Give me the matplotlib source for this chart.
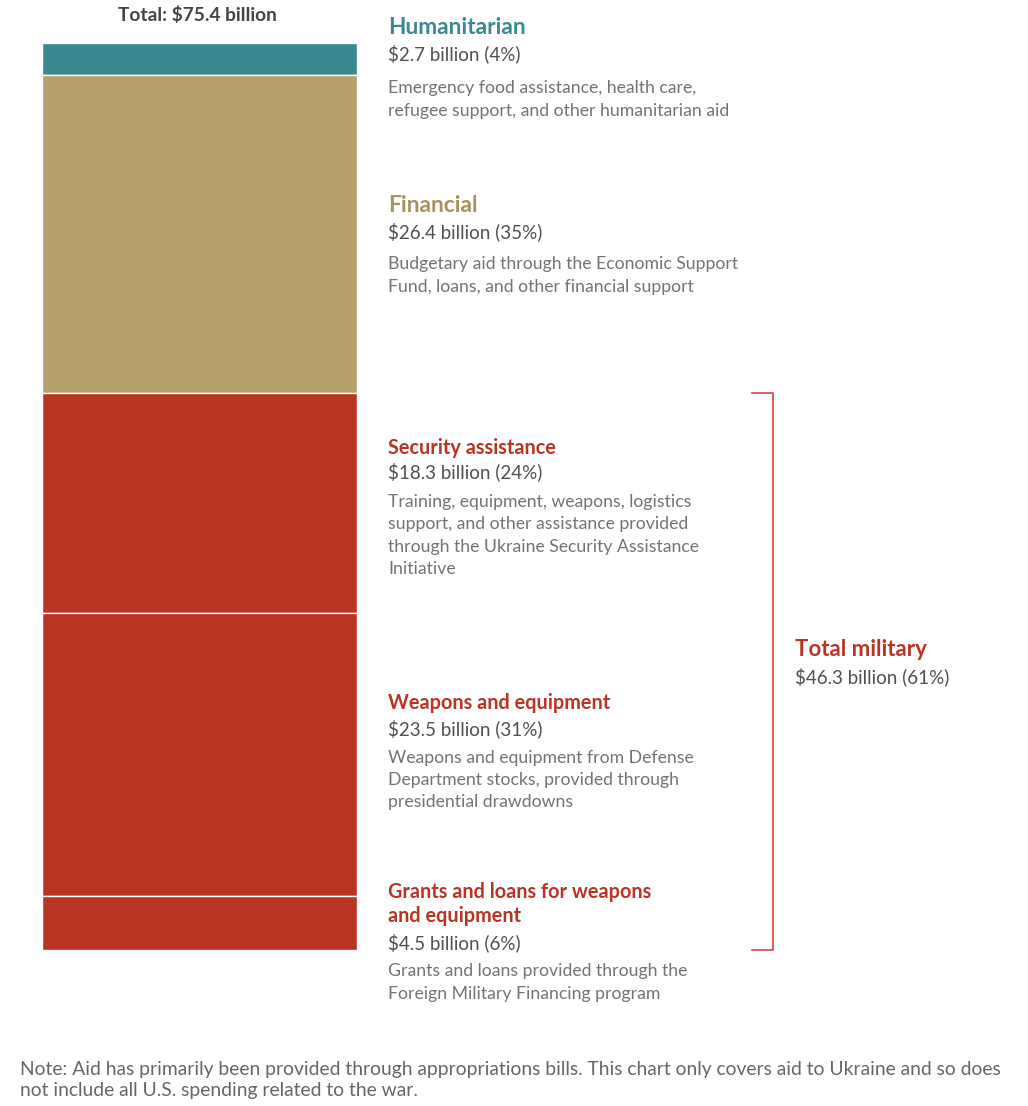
import matplotlib.pyplot as plt
import numpy as np

W, H = 1028, 1106

# category data (billions of dollars)
categories = ["Humanitarian", "Financial", "Security assistance",
              "Weapons and equipment", "Grants and loans for weapons\nand equipment"]
values = [2.7, 26.4, 18.3, 23.5, 4.5]
shares = [4, 35, 24, 31, 6]
colors = ["#3a8890", "#b5a06c", "#b93423", "#b93423", "#b93423"]
descriptions = [
    "Emergency food assistance, health care,\nrefugee support, and other humanitarian aid",
    "Budgetary aid through the Economic Support\nFund, loans, and other financial support",
    "Training, equipment, weapons, logistics\nsupport, and other assistance provided\n"
    "through the Ukraine Security Assistance\nInitiative",
    "Weapons and equipment from Defense\nDepartment stocks, provided through\n"
    "presidential drawdowns",
    "Grants and loans provided through the\nForeign Military Financing program",
]
total = 75.4
military_total = 46.3
military_share = 61

FONT = "Lato"
DARK = "#444444"
MID = "#505050"
LIGHT = "#737373"
RED = "#b93423"

fig = plt.figure(figsize=(W / 100, H / 100), dpi=100)

# bar axes spans the full width in pixel units, y in billions
ax = fig.add_axes([0, (H - 950) / H, 1, 907 / H])
ax.set_xlim(0, W)
ax.set_ylim(total, 0)
ax.axis("off")

bottoms = np.concatenate([[0], np.cumsum(values)[:-1]])
ax.bar(42, values, bottom=bottoms, width=315, align="edge",
       color=colors, edgecolor="white", linewidth=1.0)

# bracket for the military total
mil_top = bottoms[2]
mil_bot = bottoms[-1] + values[-1]
ax.plot([752, 773, 773, 752], [mil_top, mil_top, mil_bot, mil_bot],
        color="#d8473e", lw=1.2, clip_on=False)


def txt(x, y, s, **kw):
    kw.setdefault("family", FONT)
    fig.text(x / W, 1 - y / H, s, va="center", ha=kw.pop("ha", "left"), **kw)


txt(197, 15, f"Total: ${total} billion", ha="center", fontsize=13.8,
    fontweight="bold", color=DARK)

# (title y, value y, description y, title size)
label_pos = [
    (27, 54, 99.5, 16.3),
    (206, 232, 275.5, 16.3),
    (448, 472, 535.5, 14.3),
    (703, 729, 780, 14.3),
    (904, 943, 982.5, 14.3),
]
for i, (ty, vy, dy, fs) in enumerate(label_pos):
    tcolor = colors[i] if i < 2 else RED
    if i == 1:
        tcolor = "#a8925a"
    txt(388, ty, categories[i], fontsize=fs, fontweight="bold", color=tcolor,
        linespacing=1.3)
    txt(388, vy, f"${values[i]} billion ({shares[i]}%)", fontsize=13.5, color=MID)
    txt(388, dy, descriptions[i], fontsize=12.7, color=LIGHT, linespacing=1.47)

txt(795, 649, "Total military", fontsize=16, fontweight="bold", color=RED)
txt(795, 677, f"${military_total} billion ({military_share}%)", fontsize=13.5,
    color=MID)

txt(20, 1080, "Note: Aid has primarily been provided through appropriations bills. "
    "This chart only covers aid to Ukraine and so does\nnot include all U.S. "
    "spending related to the war.", fontsize=13.9, color="#666666",
    linespacing=1.27)

fig.savefig("out.png", dpi=100)
